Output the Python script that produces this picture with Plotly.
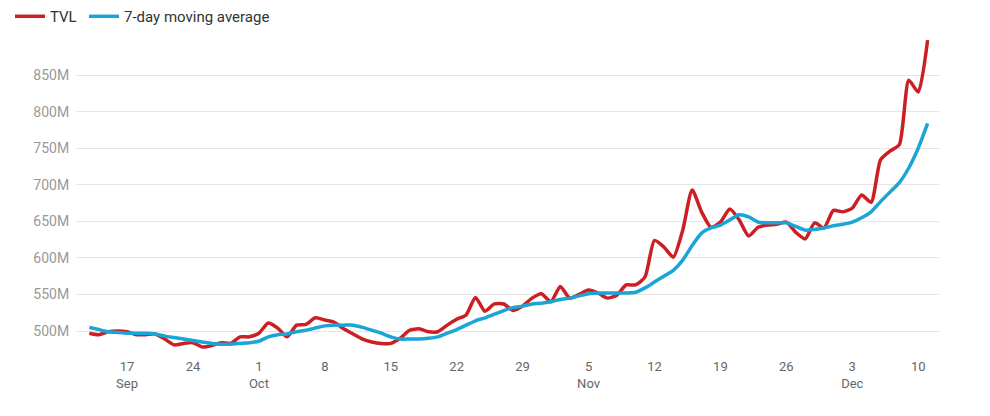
import pandas as pd
import plotly.graph_objects as go

dates = pd.date_range("2021-09-13", "2021-12-11", freq="D")

tvl = [
    497, 495, 499, 500, 499, 495, 495, 496, 489, 481,   # Sep 13-22
    483, 484, 478, 480, 484, 483, 492, 492,             # Sep 23-30
    497, 511, 504, 492, 508, 509, 518, 515, 512, 503,   # Oct 1-10
    496, 489, 485, 483, 483, 490, 501, 503, 499, 499,   # Oct 11-20
    508, 516, 522, 546, 527, 537, 537, 528, 534, 545, 551,  # Oct 21-31
    540, 561, 545, 550, 556, 552, 545, 549, 563, 563,   # Nov 1-10
    574, 624, 615, 601, 638, 693, 663, 642, 649, 667,   # Nov 11-20
    652, 630, 642, 645, 646, 649, 635, 626, 648, 641,   # Nov 21-30
    665, 663, 668, 686, 676, 734, 746, 755, 843, 827, 898,  # Dec 1-11
]

ma7 = [
    505, 502, 499, 498, 497, 497, 497, 496, 493, 491,
    489, 487, 485, 483, 482, 482, 483, 484,
    486, 492, 495, 496, 499, 501, 504, 507, 508, 508,
    508, 505, 501, 497, 492, 489, 489, 489, 490, 492,
    497, 502, 508, 514, 518, 523, 528, 532, 534, 537, 538,
    540, 543, 545, 548, 551, 552, 552, 552, 552, 553,
    559, 567, 575, 583, 597, 617, 634, 641, 645, 652,
    659, 656, 649, 648, 648, 648, 643, 638, 639, 641,
    644, 646, 649, 655, 663, 677, 690, 703, 723, 750, 784,
]

tick_vals = ["2021-09-17", "2021-09-24", "2021-10-01", "2021-10-08", "2021-10-15",
             "2021-10-22", "2021-10-29", "2021-11-05", "2021-11-12", "2021-11-19",
             "2021-11-26", "2021-12-03", "2021-12-10"]
tick_text = ["17<br>Sep", "24", "1<br>Oct", "8", "15", "22", "29", "5<br>Nov",
             "12", "19", "26", "3<br>Dec", "10"]
y_ticks = [500, 550, 600, 650, 700, 750, 800, 850]
y_tick_text = [f"{v}M" for v in y_ticks]

fig = go.Figure()
fig.add_trace(go.Scatter(x=dates, y=tvl, name="TVL", mode="lines", legend="legend",
                         line=dict(color="#cc1f24", width=3.5, shape="spline", smoothing=0.6)))
fig.add_trace(go.Scatter(x=dates, y=ma7, name="7-day moving average", mode="lines",
                         legend="legend2",
                         line=dict(color="#1ba4d6", width=3.5, shape="spline", smoothing=0.6)))

legend_common = dict(orientation="h", y=1.111, xanchor="left", yanchor="top",
                     font=dict(size=15, color="#333"), itemwidth=30,
                     bgcolor="rgba(0,0,0,0)")

fig.update_layout(
    width=990, height=416,
    margin=dict(l=76, r=51, t=35, b=66, autoexpand=False),
    paper_bgcolor="white", plot_bgcolor="white",
    font=dict(family="Roboto", size=14, color="#333"),
    showlegend=True,
    legend=dict(x=-0.0765, **legend_common),
    legend2=dict(x=0.0093, **legend_common),
    xaxis=dict(
        range=["2021-09-11 14:00", "2021-12-12 05:00"],
        tickmode="array", tickvals=tick_vals, ticktext=tick_text,
        showgrid=False, showline=False, zeroline=False,
        tickfont=dict(size=13, color="#666"),
        ticks="outside", ticklen=4, tickcolor="rgba(0,0,0,0)",
    ),
    yaxis=dict(
        range=[474, 905],
        tickmode="array", tickvals=y_ticks, ticktext=y_tick_text,
        showgrid=True, gridcolor="#e6e6e6", gridwidth=1.3,
        zeroline=False, showline=False,
        tickfont=dict(size=14, color="#999"),
        ticks="outside", ticklen=3, tickcolor="rgba(0,0,0,0)",
    ),
)

fig.write_html("out.html", config={"displayModeBar": False},
               post_script="document.body.style.margin='0';")
